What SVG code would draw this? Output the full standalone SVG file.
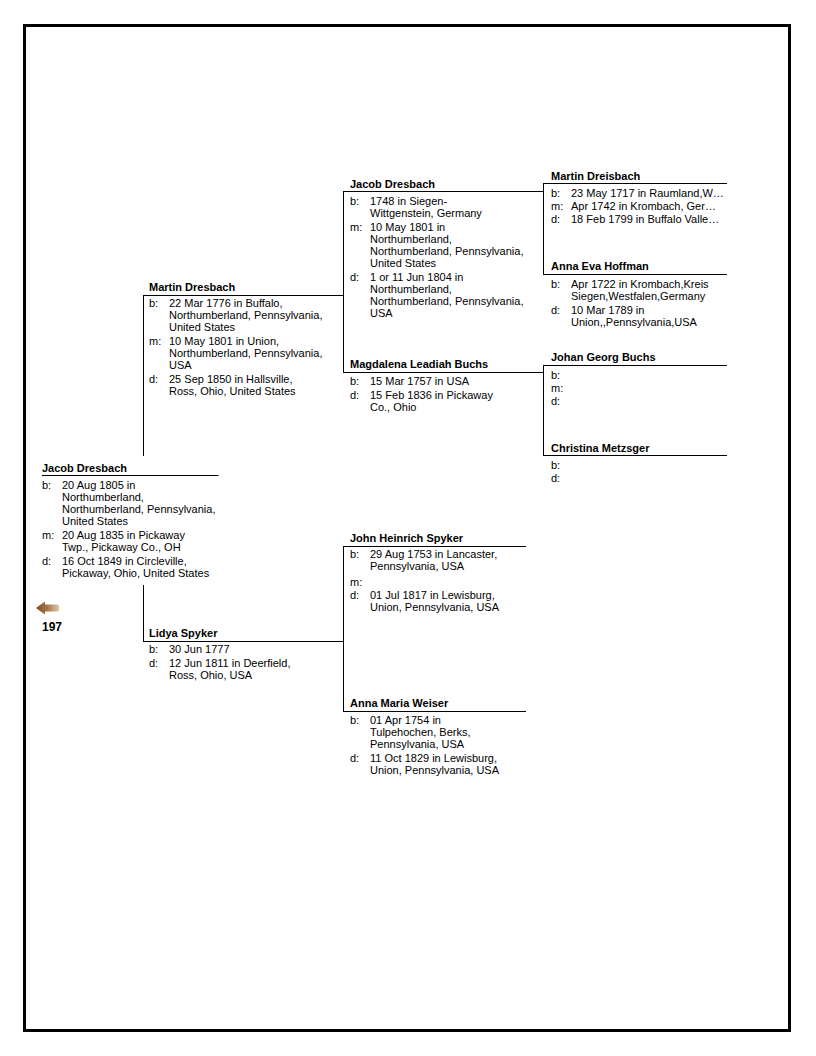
<svg xmlns="http://www.w3.org/2000/svg" width="816" height="1056" viewBox="0 0 816 1056">
<style>
text{font-family:"Liberation Sans",Arial,sans-serif;font-size:11px;fill:#000}
.n{font-weight:bold}
.num{font-weight:bold;font-size:12px}
.ln{stroke:#000;stroke-width:1;fill:none}
</style>
<defs>
<linearGradient id="ag" x1="0" y1="0" x2="1" y2="0">
<stop offset="0" stop-color="#7a4a22"/>
<stop offset="0.5" stop-color="#a9784c"/>
<stop offset="1" stop-color="#e6cdb2"/>
</linearGradient>
</defs>
<rect x="24.5" y="25.5" width="765" height="1005" fill="#fff" stroke="#000" stroke-width="3"/>

<g id="connectors" class="ln">
<path d="M42 475.5H218.5"/>
<path d="M143.5 295V456M143.5 585V641"/>
<path d="M143 295.5H343.5"/>
<path d="M143 641.5H343.5"/>
<path d="M343.5 191V372"/>
<path d="M343 191.5H543.5"/>
<path d="M343 372.5H543.5"/>
<path d="M343.5 546V711"/>
<path d="M343 546.5H526"/>
<path d="M343 711.5H526"/>
<path d="M543.5 183V274"/>
<path d="M543 183.5H727"/>
<path d="M543 274.5H727"/>
<path d="M543.5 365V455"/>
<path d="M543 365.5H727"/>
<path d="M543 455.5H727"/>
</g>

<g id="p1-jacob-dresbach">
<text class="n" x="42" y="472">Jacob Dresbach</text>
<text x="42" y="489">b:</text>
<text x="62" y="489">20 Aug 1805 in</text>
<text x="62" y="501">Northumberland,</text>
<text x="62" y="513">Northumberland, Pennsylvania,</text>
<text x="62" y="525">United States</text>
<text x="42" y="539">m:</text>
<text x="62" y="539">20 Aug 1835 in Pickaway</text>
<text x="62" y="551">Twp., Pickaway Co., OH</text>
<text x="42" y="565">d:</text>
<text x="62" y="565">16 Oct 1849 in Circleville,</text>
<text x="62" y="577">Pickaway, Ohio, United States</text>
</g>

<g id="back-197">
<path d="M36 608L45 601.5V604.5H57Q59.5 604.5 59.5 608Q59.5 611.5 57 611.5H45V614.5Z" fill="url(#ag)"/>
<text class="num" x="42" y="631">197</text>
</g>

<g id="p2-martin-dresbach">
<text class="n" x="149" y="291">Martin Dresbach</text>
<text x="149" y="307">b:</text>
<text x="169" y="307">22 Mar 1776 in Buffalo,</text>
<text x="169" y="319">Northumberland, Pennsylvania,</text>
<text x="169" y="331">United States</text>
<text x="149" y="345">m:</text>
<text x="169" y="345">10 May 1801 in Union,</text>
<text x="169" y="357">Northumberland, Pennsylvania,</text>
<text x="169" y="369">USA</text>
<text x="149" y="383">d:</text>
<text x="169" y="383">25 Sep 1850 in Hallsville,</text>
<text x="169" y="395">Ross, Ohio, United States</text>
</g>

<g id="p3-lidya-spyker">
<text class="n" x="149" y="637">Lidya Spyker</text>
<text x="149" y="653">b:</text>
<text x="169" y="653">30 Jun 1777</text>
<text x="149" y="667">d:</text>
<text x="169" y="667">12 Jun 1811 in Deerfield,</text>
<text x="169" y="679">Ross, Ohio, USA</text>
</g>

<g id="p4-jacob-dresbach">
<text class="n" x="350" y="188">Jacob Dresbach</text>
<text x="350" y="205">b:</text>
<text x="370" y="205">1748 in Siegen-</text>
<text x="370" y="217">Wittgenstein, Germany</text>
<text x="350" y="231">m:</text>
<text x="370" y="231">10 May 1801 in</text>
<text x="370" y="243">Northumberland,</text>
<text x="370" y="255">Northumberland, Pennsylvania,</text>
<text x="370" y="267">United States</text>
<text x="350" y="281">d:</text>
<text x="370" y="281">1 or 11 Jun 1804 in</text>
<text x="370" y="293">Northumberland,</text>
<text x="370" y="305">Northumberland, Pennsylvania,</text>
<text x="370" y="317">USA</text>
</g>

<g id="p5-magdalena-leadiah-buchs">
<text class="n" x="350" y="368">Magdalena Leadiah Buchs</text>
<text x="350" y="385">b:</text>
<text x="370" y="385">15 Mar 1757 in USA</text>
<text x="350" y="399">d:</text>
<text x="370" y="399">15 Feb 1836 in Pickaway</text>
<text x="370" y="411">Co., Ohio</text>
</g>

<g id="p6-john-heinrich-spyker">
<text class="n" x="350" y="542">John Heinrich Spyker</text>
<text x="350" y="558">b:</text>
<text x="370" y="558">29 Aug 1753 in Lancaster,</text>
<text x="370" y="570">Pennsylvania, USA</text>
<text x="350" y="586">m:</text>
<text x="350" y="599">d:</text>
<text x="370" y="599">01 Jul 1817 in Lewisburg,</text>
<text x="370" y="611">Union, Pennsylvania, USA</text>
</g>

<g id="p7-anna-maria-weiser">
<text class="n" x="350" y="707">Anna Maria Weiser</text>
<text x="350" y="724">b:</text>
<text x="370" y="724">01 Apr 1754 in</text>
<text x="370" y="736">Tulpehochen, Berks,</text>
<text x="370" y="748">Pennsylvania, USA</text>
<text x="350" y="762">d:</text>
<text x="370" y="762">11 Oct 1829 in Lewisburg,</text>
<text x="370" y="774">Union, Pennsylvania, USA</text>
</g>

<g id="p8-martin-dreisbach">
<text class="n" x="551" y="180">Martin Dreisbach</text>
<text x="551" y="197">b:</text>
<text x="571" y="197">23 May 1717 in Raumland,W…</text>
<text x="551" y="210">m:</text>
<text x="571" y="210">Apr 1742 in Krombach, Ger…</text>
<text x="551" y="223">d:</text>
<text x="571" y="223">18 Feb 1799 in Buffalo Valle…</text>
</g>

<g id="p9-anna-eva-hoffman">
<text class="n" x="551" y="270">Anna Eva Hoffman</text>
<text x="551" y="288">b:</text>
<text x="571" y="288">Apr 1722 in Krombach,Kreis</text>
<text x="571" y="300">Siegen,Westfalen,Germany</text>
<text x="551" y="314">d:</text>
<text x="571" y="314">10 Mar 1789 in</text>
<text x="571" y="326">Union,,Pennsylvania,USA</text>
</g>

<g id="p10-johan-georg-buchs">
<text class="n" x="551" y="361">Johan Georg Buchs</text>
<text x="551" y="379">b:</text>
<text x="551" y="392">m:</text>
<text x="551" y="405">d:</text>
</g>

<g id="p11-christina-metzsger">
<text class="n" x="551" y="452">Christina Metzsger</text>
<text x="551" y="469">b:</text>
<text x="551" y="482">d:</text>
</g>
</svg>
